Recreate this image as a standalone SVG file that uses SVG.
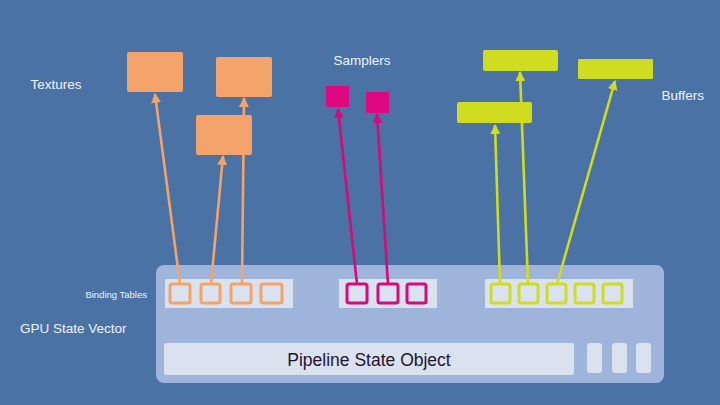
<svg xmlns="http://www.w3.org/2000/svg" width="720" height="405" viewBox="0 0 720 405">
<defs>
<style>
.lbl{font-family:"Liberation Sans",Arial,sans-serif;fill:#eef3fa}
.tex{fill:#f4a46a}
.smp{fill:#de077f}
.buf{fill:#cfdc1f}
.slot{fill:none;stroke-width:3}
.so{stroke:#f4a46a}.sm{stroke:#d30b7b}.sb{stroke:#cfdc1f}
.c{fill:none;stroke-width:2.6}
</style>
<marker id="ao" viewBox="0 0 10 10" refX="9" refY="5" markerWidth="10" markerHeight="10" markerUnits="userSpaceOnUse" orient="auto"><path d="M0,0L10,5L0,10z" fill="#f4a46a"/></marker>
<marker id="am" viewBox="0 0 10 10" refX="9" refY="5" markerWidth="10" markerHeight="10" markerUnits="userSpaceOnUse" orient="auto"><path d="M0,0L10,5L0,10z" fill="#d30b7b"/></marker>
<marker id="ab" viewBox="0 0 10 10" refX="9" refY="5" markerWidth="10" markerHeight="10" markerUnits="userSpaceOnUse" orient="auto"><path d="M0,0L10,5L0,10z" fill="#cfdc1f"/></marker>
</defs>
<rect width="720" height="405" fill="#4a72a5"/>

<g id="panel">
<rect x="156" y="265" width="508" height="118" rx="8" fill="#9fb4da"/>
<rect x="165" y="279" width="128" height="29" fill="#dbe2ef"/>
<rect x="339" y="279" width="98" height="29" fill="#dbe2ef"/>
<rect x="485" y="279" width="148" height="29" fill="#dbe2ef"/>
</g>

<g id="connectors">
<line class="c so" x1="180" y1="284" x2="155" y2="94" marker-end="url(#ao)"/>
<line class="c so" x1="211" y1="284" x2="223" y2="156" marker-end="url(#ao)"/>
<line class="c so" x1="242" y1="284" x2="244" y2="98" marker-end="url(#ao)"/>
<line class="c sm" x1="357" y1="284" x2="338" y2="109" marker-end="url(#am)"/>
<line class="c sm" x1="388" y1="284" x2="377" y2="114" marker-end="url(#am)"/>
<line class="c sb" x1="500" y1="284" x2="495" y2="125" marker-end="url(#ab)"/>
<line class="c sb" x1="528" y1="284" x2="520" y2="72" marker-end="url(#ab)"/>
<line class="c sb" x1="557" y1="284" x2="615" y2="81" marker-end="url(#ab)"/>
</g>

<g id="textures">
<rect class="tex" x="127" y="52" width="56" height="40" rx="2"/>
<rect class="tex" x="216" y="57" width="56" height="40" rx="2"/>
<rect class="tex" x="196" y="115" width="56" height="40" rx="2"/>
<text class="lbl" x="56" y="89" font-size="13.5" text-anchor="middle">Textures</text>
</g>
<g id="samplers">
<rect class="smp" x="326" y="86" width="23" height="21" rx="1"/>
<rect class="smp" x="366" y="92" width="23" height="21" rx="1"/>
<text class="lbl" x="362" y="65" font-size="13.5" text-anchor="middle">Samplers</text>
</g>
<g id="buffers">
<rect class="buf" x="483" y="50" width="75" height="21" rx="2"/>
<rect class="buf" x="578" y="59" width="75" height="20" rx="1"/>
<rect class="buf" x="457" y="102" width="75" height="21" rx="2"/>
<text class="lbl" x="704" y="100" font-size="13.5" text-anchor="end">Buffers</text>
</g>

<g id="binding-tables">
<rect class="slot so" x="170" y="284" width="20" height="19" rx="2"/>
<rect class="slot so" x="201" y="284" width="19" height="19" rx="2"/>
<rect class="slot so" x="231" y="284" width="20" height="19" rx="2"/>
<rect class="slot so" x="261" y="284" width="21" height="19" rx="2"/>
<rect class="slot sm" x="347" y="284" width="20" height="19" rx="2"/>
<rect class="slot sm" x="378" y="284" width="20" height="19" rx="2"/>
<rect class="slot sm" x="407" y="284" width="19" height="19" rx="2"/>
<rect class="slot sb" x="491" y="284" width="19" height="19" rx="2"/>
<rect class="slot sb" x="519" y="284" width="19" height="19" rx="2"/>
<rect class="slot sb" x="547" y="284" width="19" height="19" rx="2"/>
<rect class="slot sb" x="575" y="284" width="19" height="19" rx="2"/>
<rect class="slot sb" x="603" y="284" width="19" height="19" rx="2"/>
<text class="lbl" x="147" y="298" font-size="9.5" text-anchor="end">Binding Tables</text>
</g>

<g id="state-vector">
<text class="lbl" x="20" y="333" font-size="13.5">GPU State Vector</text>
</g>

<g id="pso">
<rect x="164" y="343" width="410" height="32" rx="2" fill="#dbe2ef"/>
<text x="369" y="366" font-family="Liberation Sans,Arial,sans-serif" font-size="17.5" fill="#231430" text-anchor="middle">Pipeline State Object</text>
<rect x="587" y="343" width="15" height="30" rx="3" fill="#dbe2ef"/>
<rect x="612" y="343" width="15" height="30" rx="3" fill="#dbe2ef"/>
<rect x="636" y="343" width="15" height="30" rx="3" fill="#dbe2ef"/>
</g>
</svg>
